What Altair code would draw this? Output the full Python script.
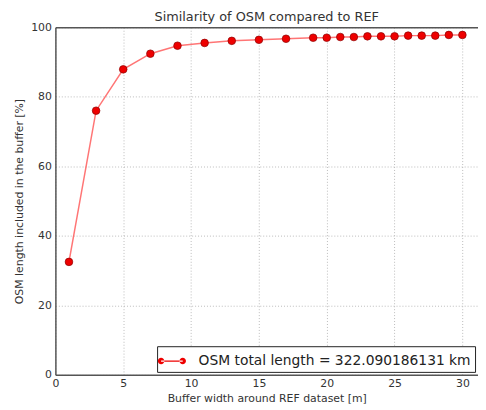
import altair as alt
import pandas as pd

buffer_m = [1, 3, 5, 7, 9, 11, 13, 15, 17, 19, 20, 21, 22, 23, 24, 25, 26, 27, 28, 29, 30]
similarity_pct = [32.5, 76.0, 87.9, 92.4, 94.7, 95.5, 96.1, 96.4, 96.7, 97.0, 97.0,
                  97.2, 97.2, 97.4, 97.4, 97.4, 97.6, 97.6, 97.6, 97.8, 97.8]
series_label = "OSM total length = 322.090186131 km"
x_ticks = [0, 5, 10, 15, 20, 25, 30]
y_ticks = [0, 20, 40, 60, 80, 100]

df = pd.DataFrame({
    "buffer": buffer_m,
    "pct": similarity_pct,
    "series": [series_label] * len(buffer_m),
})

FONT = "DejaVu Sans"
xscale = alt.Scale(domain=[0, 31.15], nice=False, zero=False)
yscale = alt.Scale(domain=[0, 100], nice=False)

yaxis = alt.Axis(values=y_ticks, title="OSM length included in the buffer [%]",
                 labelPadding=4, titlePadding=6, ticks=False, labelFlush=False,
                 grid=True)

base = alt.Chart(df)

line = base.mark_line(color="#ff3b3b", strokeWidth=1.5, opacity=0.7).encode(
    x=alt.X("buffer:Q", scale=xscale,
            axis=alt.Axis(orient="bottom", values=x_ticks, ticks=False,
                          title="Buffer width around REF dataset [m]",
                          labelPadding=3, titlePadding=4, labelFlush=False,
                          grid=True)),
    y=alt.Y("pct:Q", scale=yscale, axis=yaxis),
)

legend_symbol = ("M-1,-0.06 L1,-0.06 L1,0.06 L-1,0.06 Z "
                 "M-1.3,0 A0.3,0.3 0 1,0 -0.7,0 A0.3,0.3 0 1,0 -1.3,0 Z "
                 "M0.7,0 A0.3,0.3 0 1,0 1.3,0 A0.3,0.3 0 1,0 0.7,0 Z")

pts = base.mark_point(filled=True, size=60, opacity=1, stroke="#8a0000",
                      strokeWidth=0.7).encode(
    x=alt.X("buffer:Q", scale=xscale,
            axis=alt.Axis(orient="top", labels=False, ticks=False, grid=False,
                          title=None)),
    y=alt.Y("pct:Q", scale=yscale, axis=yaxis),
    color=alt.Color("series:N",
                    scale=alt.Scale(domain=[series_label], range=["#ee0000"]),
                    legend=alt.Legend(title=None, orient="bottom-right", offset=3,
                                      fillColor="white", strokeColor="#222",
                                      padding=4, cornerRadius=0,
                                      labelFont=FONT, labelFontSize=14,
                                      labelColor="#222", labelOffset=16,
                                      labelLimit=500,
                                      symbolType=legend_symbol, symbolSize=480,
                                      symbolStrokeWidth=0, symbolOpacity=1)),
)

chart = alt.layer(line, pts).resolve_axis(x="independent").properties(
    width=428,
    height=352,
    autosize=alt.AutoSizeParams(type="none"),
    padding={"left": 48, "top": 17, "right": 0, "bottom": 28},
    title=alt.Title("Similarity of OSM compared to REF", font=FONT, fontSize=13,
                    fontWeight="normal", color="#333", offset=0, anchor="middle",
                    dy=3),
).configure_view(stroke=None).configure_axis(
    domainColor="#555", domainWidth=1.5,
    gridColor="#bbb", gridDash=[1, 2], gridWidth=1,
    labelFont=FONT, labelFontSize=11, labelColor="#333",
    titleFont=FONT, titleFontSize=11, titleFontWeight="normal", titleColor="#333",
)

chart.save("out.html", embed_options={"renderer": "svg", "actions": False})
